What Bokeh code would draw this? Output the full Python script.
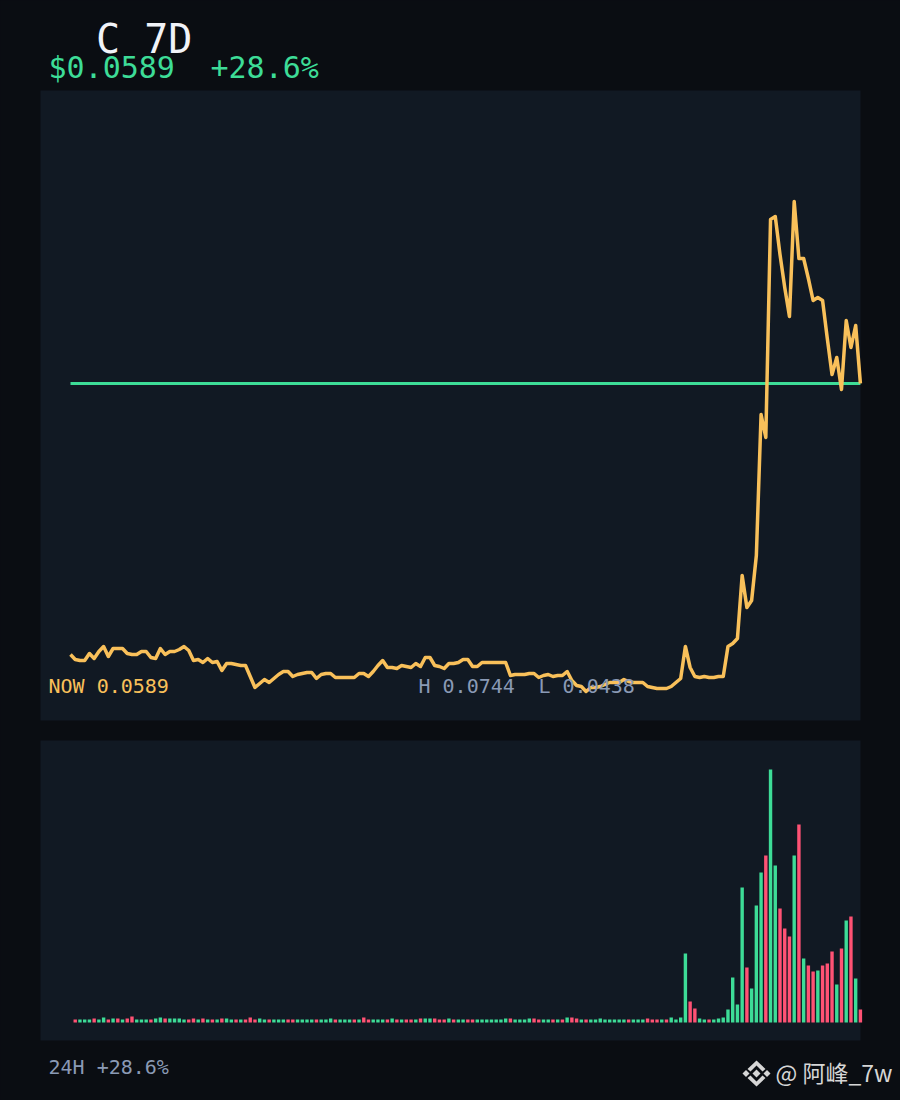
from bokeh.core.properties import value
from bokeh.embed import file_html
from bokeh.models import ColumnDataSource, GlobalInlineStyleSheet, Range1d
from bokeh.plotting import figure
from bokeh.resources import INLINE

# Price in units of 1e-5 dollars, one point per hour over 7 days
price_e5 = [
    4535, 4510, 4505, 4505, 4540, 4515, 4550, 4575, 4525, 4565,
    4565, 4565, 4540, 4535, 4535, 4550, 4550, 4520, 4515, 4565,
    4535, 4550, 4550, 4560, 4575, 4555, 4505, 4510, 4495, 4515,
    4495, 4500, 4455, 4490, 4490, 4485, 4480, 4480, 4425, 4370,
    4390, 4410, 4395, 4415, 4435, 4450, 4450, 4425, 4435, 4440,
    4445, 4445, 4415, 4435, 4440, 4440, 4420, 4420, 4420, 4420,
    4420, 4440, 4440, 4425, 4450, 4480, 4505, 4470, 4470, 4465,
    4480, 4475, 4470, 4490, 4475, 4520, 4520, 4480, 4475, 4465,
    4490, 4490, 4495, 4510, 4510, 4475, 4475, 4495, 4495, 4495,
    4495, 4495, 4495, 4430, 4435, 4435, 4435, 4440, 4440, 4420,
    4430, 4435, 4425, 4430, 4430, 4450, 4405, 4380, 4375, 4350,
    4370, 4370, 4375, 4385, 4395, 4395, 4395, 4410, 4400, 4395,
    4395, 4395, 4375, 4370, 4365, 4365, 4365, 4375, 4395, 4415,
    4575, 4470, 4425, 4420, 4425, 4420, 4420, 4425, 4425, 4575,
    4590, 4615, 4930, 4770, 4805, 5030, 5735, 5620, 6710, 6725,
    6535, 6370, 6225, 6800, 6515, 6515, 6415, 6305, 6320, 6305,
    6115, 5935, 6020, 5860, 6205, 6070, 6180, 5890,
]
reference_price_e5 = 5890

# Volume bars, one per hour from the second price point on
volume = [
    3, 3, 3, 3, 4, 3, 5, 3, 4, 4, 3, 4, 6, 3, 3, 3, 3, 4, 5, 4,
    4, 4, 4, 3, 3, 4, 3, 4, 3, 3, 3, 4, 4, 3, 3, 3, 3, 5, 3, 4,
    3, 3, 3, 3, 3, 3, 3, 3, 3, 3, 3, 3, 3, 3, 4, 3, 3, 3, 3, 3, 3,
    5, 3, 3, 3, 3, 3, 4, 3, 3, 3, 3, 3, 4, 4, 4, 4, 3, 3, 4, 3,
    3, 3, 3, 3, 3, 3, 3, 3, 3, 3, 4, 4, 3, 3, 3, 4, 4, 3, 3, 3,
    3, 3, 3, 5, 5, 4, 3, 3, 3, 3, 4, 3, 3, 3, 3, 3, 3, 3, 3, 3,
    4, 3, 3, 3, 3,
    5, 3, 5, 69, 21, 14, 4, 3, 3, 3, 4, 5, 13, 45, 18, 135, 55, 34,
    117, 150, 167, 253, 157, 114, 94, 86, 167, 198, 64, 57, 51, 52,
    57, 59, 71, 38, 74, 102, 106, 44, 13,
]
direction = [
    "r","g","g","g","r","g","g","r","g","r","g","r","r","g","g","g","r","g","g","r",
    "g","g","g","g","r","r","g","r","g","r","g","r","g","g","r","g","r","r","r","g",
    "g","r","g","g","g","r","r","g","g","g","g","r","g","g","g","r","g","g","g","r","g",
    "r","r","g","g","g","r","g","r","g","r","r","g","r","g","g","r","r","r","g","r",
    "g","g","r","r","g","g","g","g","g","g","g","r","g","g","g","g","r","r","g","g",
    "r","g","r","g","r","r","g","r","g","g","g","g","g","g","g","g","r","g","g","g",
    "r","r","r","g","r",
    "g","g","g","g","r","r","g","g","r","g","g","g","g","g","g","g","r","g",
    "g","g","r","g","g","r","r","r","g","r","g","r","r","g",
    "r","r","r","g","r","g","r","g","r",
]

title_text = "C 7D"
price_text = "$0.0589"
change_text = "+28.6%"
now_text = "NOW 0.0589"
high_text = "H 0.0744"
low_text = "L 0.0438"
footer_text = "24H +28.6%"
mark_text = "@ 阿峰_7w"

BG = "#0a0d12"
PANEL = "#111923"
GREEN = "#3ddc97"
RED = "#ff5274"
AMBER = "#f9c05a"
SLATE = "#8a9ab5"
WHITE = "#f1f3f8"
MONO = value("DejaVu Sans Mono")

p = figure(
    width=900, height=1100, output_backend="svg", toolbar_location=None,
    x_range=Range1d(0, 900), y_range=Range1d(1100, 0),
    x_axis_location=None, y_axis_location=None,
    min_border=0, background_fill_color=BG, border_fill_color=BG,
    outline_line_color=None,
)
p.grid.visible = False
p.stylesheets = [GlobalInlineStyleSheet(css="html,body{background:#0a0d12;overflow:hidden}")]

p.extra_x_ranges = {"hour": Range1d((0 - 70) / 4.73, (900 - 70) / 4.73)}
p.extra_y_ranges = {
    "price": Range1d(7805 - 5 * 1100, 7805),
    "vol": Range1d(1022 - 1100, 1022),
}

# Panels
p.quad(left=[40, 40], right=[860, 860], top=[90, 740], bottom=[720, 1040],
       fill_color=PANEL, line_color=None)

# Price line and reference line
hours = list(range(len(price_e5)))
p.line([hours[0], hours[-1]], [reference_price_e5, reference_price_e5],
       x_range_name="hour", y_range_name="price", line_color=GREEN, line_width=3)
p.line(hours, price_e5, x_range_name="hour", y_range_name="price",
       line_color=AMBER, line_width=3.5, line_join="round")

# Volume
colors = [GREEN if d == "g" else RED for d in direction]
src = ColumnDataSource(dict(x=hours[1:], top=volume, color=colors))
p.vbar(x="x", top="top", bottom=0, width=3.4 / 4.73, source=src,
       x_range_name="hour", y_range_name="vol", fill_color="color", line_color=None)


def label(x, y, text, size, color, font=MONO):
    p.text([x], [y], text=[text], text_font=font, text_font_size=size,
           text_color=color, text_baseline="alphabetic", text_align="left")


label(95.5, 38, title_text, "40px", WHITE)
label(48, 67, price_text, "30px", GREEN)
label(210, 67, change_text, "30px", GREEN)
label(48, 685, now_text, "20px", AMBER)
label(418, 685, high_text, "20px", SLATE)
label(538, 685, low_text, "20px", SLATE)
label(48, 1066, footer_text, "20px", SLATE)

# Watermark
MARK = "#d6d6d6"
p.patches(
    [[756, 765, 762, 756, 750, 747], [756, 765, 762, 756, 750, 747]],
    [[1060, 1068.5, 1071, 1065, 1071, 1068.5], [1086, 1077.5, 1075, 1081, 1075, 1077.5]],
    fill_color=MARK, line_color=None,
)
p.patches(
    [[745.5, 749, 745.5, 742], [756, 760, 756, 752], [766.5, 770, 766.5, 763]],
    [[1069.5, 1073, 1076.5, 1073], [1069, 1073, 1077, 1073], [1069.5, 1073, 1076.5, 1073]],
    fill_color=MARK, line_color=None,
)
label(775, 1071, mark_text, "23px", MARK, font=value("Noto Sans CJK SC"))

open("out.html", "w").write(file_html(p, INLINE))
